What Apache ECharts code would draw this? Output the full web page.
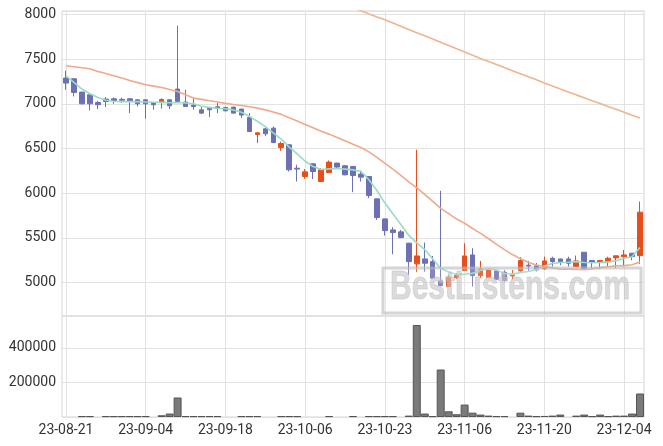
<!DOCTYPE html>
<html><head><meta charset="utf-8">
<script src="https://cdn.jsdelivr.net/npm/echarts@6/dist/echarts.min.js"></script>
<style>html,body{margin:0;padding:0;background:#fff}#c{width:663px;height:446px}</style>
</head><body><div id="c"></div>
<script>
const dates = ["23-08-21","23-08-22","23-08-23","23-08-24","23-08-25","23-08-28","23-08-29","23-08-30","23-08-31","23-09-01",
"23-09-04","23-09-05","23-09-06","23-09-07","23-09-08","23-09-11","23-09-12","23-09-13","23-09-14","23-09-15",
"23-09-18","23-09-19","23-09-20","23-09-21","23-09-22","23-09-25","23-09-26","23-09-27","23-10-04","23-10-05",
"23-10-06","23-10-10","23-10-11","23-10-12","23-10-13","23-10-16","23-10-17","23-10-18","23-10-19","23-10-20",
"23-10-23","23-10-24","23-10-25","23-10-26","23-10-27","23-10-30","23-10-31","23-11-01","23-11-02","23-11-03",
"23-11-06","23-11-07","23-11-08","23-11-09","23-11-10","23-11-13","23-11-14","23-11-15","23-11-16","23-11-17",
"23-11-20","23-11-21","23-11-22","23-11-23","23-11-24","23-11-27","23-11-28","23-11-29","23-11-30","23-12-01",
"23-12-04","23-12-05","23-12-06"];
const openP = [7288,7280,7131,7101,7015,7053,7056,7050,7056,7045, 7045,7015,7020,7045,7165,7020,6986,6933,6952,6967,
6959,6963,6941,6847,6657,6720,6728,6511,6542,6280, 6187,6329,6131,6232,6337,6307,6300,6214,6187,5937,
5713,5590,5568,5441,5210,5265,5235,5019,4956,5056, 5135,5310,5079,5056,5132,5117,5075,5131,5195,5187,
5154,5273,5265,5265,5180,5340,5247,5228,5235,5277, 5290,5329,5302];
const closeP = [7232,7127,7000,7000,6990,7026,7037,7040,7026,7000, 7000,6990,7049,6978,7026,6970,6970,6896,6933,6948,
6922,6896,6874,6690,6676,6665,6567,6556,6262,6270, 6239,6243,6262,6348,6292,6206,6198,6180,5974,5728,
5582,5560,5504,5235,5299,5217,5050,4967,5061,5083, 5299,5079,5154,5143,5038,5023,5094,5247,5185,5142,
5243,5235,5235,5217,5243,5154,5228,5247,5273,5300, 5310,5291,5788];
const lowP = [7157,7082,6995,6925,6941,6963,7000,7010,6896,6970, 6833,6933,6945,6941,7020,6965,6933,6885,6852,6896,
6915,6890,6840,6685,6561,6642,6560,6474,6243,6131, 6161,6158,6125,6228,6280,6200,6012,6131,5945,5702,
5526,5318,5498,5087,5117,5123,5045,4960,4950,5040, 5130,4956,5050,5050,5030,5010,5038,5120,5131,5125,
5142,5180,5195,5180,5175,5150,5150,5150,5180,5165, 5180,5250,5210];
const highP = [7370,7285,7135,7105,7034,7075,7070,7068,7060,7048, 7050,7018,7060,7048,7874,7157,7075,6963,6960,7008,
6967,6965,6945,6896,6680,6735,6746,6578,6545,6318, 6270,6332,6281,6366,6340,6315,6305,6250,6190,5940,
5716,5620,5590,5445,6486,5448,5299,6027,5087,5105, 5441,5385,5243,5162,5135,5140,5143,5285,5243,5220,
5292,5290,5268,5290,5303,5342,5250,5250,5290,5303, 5366,5330,5907];
const volume = [0,0,5000,5000,0,5000,5000,5000,5000,5000, 5000,0,10000,20000,113000,5000,5000,5000,5000,5000,
0,0,5000,5000,5000,0,0,5000,5000,5000, 0,0,0,5000,0,0,5000,0,5000,5000,
5000,5000,0,8000,533000,20000,5000,275000,33000,16000, 72000,25000,14000,8000,5000,5000,0,25000,8000,5000,
6000,8000,14000,0,8000,14000,5000,14000,5000,8000, 8000,20000,136000];
const ma5 = [7314,7239,7165,7112,7070,7040,7028,7025,7024,7024, 7021,7018,7016,7012,7015,7010,7000,6972,6960,6950,
6945,6932,6905,6860,6805,6745,6675,6605,6515,6440, 6358,6298,6265,6272,6277,6270,6261,6245,6150,6030,
5890,5770,5650,5528,5445,5370,5265,5158,5120,5090, 5095,5105,5138,5152,5143,5100,5095,5112,5125,5145,
5185,5215,5225,5228,5235,5225,5222,5225,5232,5245, 5272,5290,5392];
const ma20 = [7426,7415,7403,7392,7362,7338,7314,7288,7261,7237, 7213,7198,7183,7160,7138,7101,7064,7050,7034,7020,
7005,6992,6982,6968,6952,6932,6908,6882,6843,6807, 6769,6732,6692,6661,6624,6586,6547,6511,6463,6402,
6335,6269,6200,6127,6059,5986,5910,5831,5771,5711, 5664,5606,5551,5491,5428,5369,5314,5267,5227,5198,
5181,5165,5151,5151,5148,5145,5154,5168,5178,5189, 5190,5200,5232];
const ma60 = [null,null,null,null,null,null,null,null,null,null, null,null,null,null,null,null,null,null,null,null,
null,null,null,null,null,null,null,null,null,null, null,null,null,null,8150,8112,8075,8040,8005,7972,
7940,7904,7868,7832,7796,7760,7724,7688,7652,7616, 7580,7544,7508,7474,7440,7405,7371,7337,7302,7268,
7234,7199,7165,7133,7100,7068,7035,7003,6970,6938, 6905,6873,6840];
const priceTicks = [5000,5500,6000,6500,7000,7500,8000];
const volumeTicks = [200000,400000];

const UP = '#e84e1b', DOWN = '#6e70b4';
const candles = dates.map((d,i)=>[openP[i],closeP[i],lowP[i],highP[i]]);
const volData = volume.map(v => v === 0 ? '-' : v);
const gridLine = {show:true, interval:9, alignWithLabel:true, lineStyle:{color:'#e2e2e2', width:1}};
const chart = echarts.init(document.getElementById('c'), null, {renderer:'canvas'});
chart.setOption({
  animation:false,
  textStyle:{fontFamily:'Roboto'},
  grid:[
    {left:62, right:19, top:11, height:305, show:true, borderColor:'#d4d4d4', borderWidth:1, backgroundColor:'transparent'},
    {left:62, right:19, top:316, height:101, show:true, borderColor:'#d4d4d4', borderWidth:1, backgroundColor:'transparent'}
  ],
  xAxis:[
    {type:'category', gridIndex:0, data:dates, boundaryGap:true, axisLine:{show:false}, axisTick:{show:false},
     axisLabel:{show:false, interval:9}, splitLine:gridLine},
    {type:'category', gridIndex:1, data:dates, boundaryGap:true, axisLine:{show:false}, axisTick:{show:false},
     axisLabel:{interval:9, color:'#333', fontSize:14, margin:6, fontFamily:'Roboto'}, splitLine:gridLine}
  ],
  yAxis:[
    {type:'value', gridIndex:0, min:4627, max:8038, splitNumber:5, scale:true,
     axisLine:{show:false}, axisTick:{show:false},
     axisLabel:{color:'#333', fontSize:14, margin:6, fontFamily:'Roboto', showMinLabel:false, showMaxLabel:false,
       formatter:v=>priceTicks.includes(v)?String(v):''},
     splitLine:{show:true, lineStyle:{color:'#e2e2e2'}}},
    {type:'value', gridIndex:1, min:0, max:585000, interval:200000,
     axisLine:{show:false}, axisTick:{show:false},
     axisLabel:{color:'#333', fontSize:14, margin:6, fontFamily:'Roboto', showMinLabel:false, showMaxLabel:false,
       formatter:v=>volumeTicks.includes(v)?String(v):''},
     splitLine:{show:true, lineStyle:{color:'#e2e2e2'}}}
  ],
  series:[
    {type:'candlestick', xAxisIndex:0, yAxisIndex:0, data:candles, barWidth:5,
     itemStyle:{color:UP, color0:DOWN, borderColor:UP, borderColor0:DOWN, borderWidth:1}},
    {type:'line', xAxisIndex:0, yAxisIndex:0, data:ma5, symbol:'none', lineStyle:{color:'#98dcc6', width:1.6}},
    {type:'line', xAxisIndex:0, yAxisIndex:0, data:ma20, symbol:'none', lineStyle:{color:'#f0a98a', width:1.6}},
    {type:'line', xAxisIndex:0, yAxisIndex:0, data:ma60, symbol:'none', connectNulls:false, lineStyle:{color:'#f0b48e', width:1.6}},
    {type:'bar', xAxisIndex:1, yAxisIndex:1, data:volData, barCategoryGap:'0%',
     itemStyle:{color:'#7a7a7a', borderColor:'#555', borderWidth:1}}
  ],
  graphic:[
    {type:'rect', x:383, y:268, shape:{width:258, height:45}, z:100,
     style:{fill:'rgba(255,255,255,0.15)', stroke:'rgba(185,185,185,0.6)', lineWidth:3}},
    {type:'text', x:390, y:288, scaleX:0.75, z:101,
     style:{text:'BestListens.com', font:'bold 40px "Liberation Sans"', fill:'rgba(195,195,195,0.6)',
       stroke:'rgba(170,170,170,0.4)', lineWidth:1, verticalAlign:'middle', align:'left'}}
  ]
});
</script></body></html>
